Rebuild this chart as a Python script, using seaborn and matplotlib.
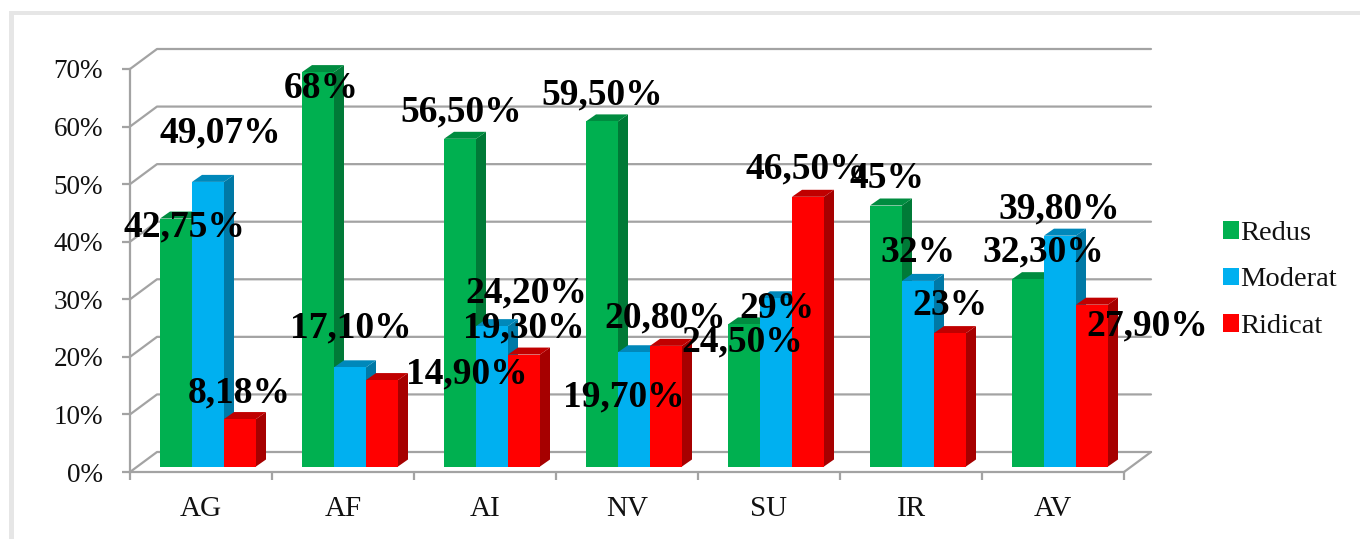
import numpy as np
import pandas as pd
import matplotlib
matplotlib.use("Agg")
import matplotlib.pyplot as plt
from matplotlib.patches import Patch, Polygon, Rectangle
import seaborn as sns

categories = ["AG", "AF", "AI", "NV", "SU", "IR", "AV"]
series_names = ["Redus", "Moderat", "Ridicat"]
redus = [42.75, 68, 56.5, 59.5, 24.5, 45, 32.3]
moderat = [49.07, 17.1, 24.2, 19.7, 29, 32, 39.8]
ridicat = [8.18, 14.9, 19.3, 20.8, 46.5, 23, 27.9]
redus_labels = ["42,75%", "68%", "56,50%", "59,50%", "24,50%", "45%", "32,30%"]
moderat_labels = ["49,07%", "17,10%", "24,20%", "19,70%", "29%", "32%", "39,80%"]
ridicat_labels = ["8,18%", "14,90%", "19,30%", "20,80%", "46,50%", "23%", "27,90%"]
y_ticks = [0, 10, 20, 30, 40, 50, 60, 70]

# label nudges from each bar's top, in pixels (right, up)
redus_nudge = [(8, -8), (3, -16), (1, 27), (0, 26), (-2, -18), (1, 27), (15, 27)]
moderat_nudge = [(12, 49), (1, 39), (34, 33), (-10, -45), (1, -10), (0, 28), (-1, 27)]
ridicat_nudge = [(-1, 26), (85, 6), (0, 27), (-1, 28), (-2, 28), (0, 28), (55, -21)]

front = ["#00B050", "#00B0F0", "#FF0000"]
side = ["#007A37", "#0079A6", "#A60000"]
top = ["#008C40", "#0088BA", "#C00000"]
grid_col = "#A3A3A3"

W, H = 1360, 539
sns.set_theme(style="white")
plt.rcParams["font.family"] = ["Liberation Serif", "DejaVu Serif"]
fig = plt.figure(figsize=(W / 100, H / 100), dpi=100, facecolor="white")

# light outer frame
fig.add_artist(Rectangle((9 / W, 0), 5 / W, 1 - 11 / H, transform=fig.transFigure, color="#E6E6E6", lw=0))
fig.add_artist(Rectangle((9 / W, 1 - 15 / H), 1 - 9 / W, 4 / H, transform=fig.transFigure, color="#E6E6E6", lw=0))

# back box
L, R, T, B = 130, 1124, 69, 472
ax0 = fig.add_axes([L / W, 1 - B / H, (R - L) / W, (B - T) / H], facecolor="none")
ax0.set_xlim(-0.5, 6.5)
ax0.set_ylim(0, 70)
px_x = (R - L) / 7
px_y = (B - T) / 70
dx0, dy0 = 27 / px_x, 20 / px_y
for v in y_ticks:
    ax0.plot([-0.5, -0.5 + dx0, 6.5 + dx0], [v, v + dy0, v + dy0], color=grid_col, lw=1.6, clip_on=False, zorder=1)
ax0.plot([6.5, 6.5 + dx0], [0, dy0], color=grid_col, lw=1.6, clip_on=False, zorder=1)
for s in ("top", "right"):
    ax0.spines[s].set_visible(False)
for s in ("left", "bottom"):
    ax0.spines[s].set_color(grid_col)
    ax0.spines[s].set_linewidth(1.6)
ax0.set_yticks(y_ticks)
ax0.set_yticklabels([f"{v}%" for v in y_ticks], fontsize=19.5, color="#111111")
ax0.set_xticks(np.arange(-0.5, 7, 1))
ax0.set_xticklabels([])
ax0.set_xticks(np.arange(7), minor=True)
ax0.set_xticklabels(categories, minor=True, fontsize=21, color="#111111")
ax0.tick_params(axis="y", which="major", length=6, width=1.6, color=grid_col, left=True, pad=13.5)
ax0.tick_params(axis="x", which="major", length=6, width=1.6, color=grid_col, bottom=True)
ax0.tick_params(axis="x", which="minor", length=0, pad=17)

# bars
df = pd.DataFrame({
    "cat": categories * 3,
    "series": np.repeat(series_names, 7),
    "value": redus + moderat + ridicat,
})
ax = fig.add_axes([(L + 7) / W, 1 - (B - 5.5) / H, (R - L) / W, 406 / H], facecolor="none")
sns.barplot(data=df, x="cat", y="value", hue="series", order=categories, hue_order=series_names,
            palette=front, saturation=1, width=0.676, gap=0, errorbar=None, legend=False, ax=ax)
ax.set_xlim(-0.5, 6.5)
ax.set_ylim(0, 70)
ax.axis("off")

dx, dy = 10 / px_x, 7 / (406 / 70)
all_labels = [redus_labels, moderat_labels, ridicat_labels]
all_nudges = [redus_nudge, moderat_nudge, ridicat_nudge]
for j, cont in enumerate(ax.containers):
    for i, bar in enumerate(cont):
        x0, w, h = bar.get_x(), bar.get_width(), bar.get_height()
        x1 = x0 + w
        bar.set_zorder(3 + 2 * j)
        bar.set_edgecolor("none")
        ax.add_patch(Polygon([(x1, 0), (x1 + dx, dy), (x1 + dx, h + dy), (x1, h)], closed=True,
                             fc=side[j], ec="none", zorder=2 + 2 * j, clip_on=False))
        ax.add_patch(Polygon([(x0, h), (x0 + dx, h + dy), (x1 + dx, h + dy), (x1, h)], closed=True,
                             fc=top[j], ec="none", zorder=2 + 2 * j, clip_on=False))
        nx, ny = all_nudges[j][i]
        ax.annotate(all_labels[j][i], xy=(x0 + w / 2, h), xytext=(nx * 0.72, ny * 0.72),
                    textcoords="offset points", ha="center", va="center", fontsize=27,
                    fontweight="bold", color="black", zorder=20, annotation_clip=False)

handles = [Patch(facecolor=c, edgecolor="none") for c in front]
fig.legend(handles, series_names, loc="center left", bbox_to_anchor=(1214 / W, 1 - 280 / H),
           bbox_transform=fig.transFigure, frameon=False, prop={"size": 20.5},
           handlelength=0.58, handleheight=0.58, handletextpad=0.05, labelspacing=0.75,
           labelcolor="#111111", borderpad=0.3, borderaxespad=0)

fig.savefig("out.png", dpi=100, facecolor="white")
